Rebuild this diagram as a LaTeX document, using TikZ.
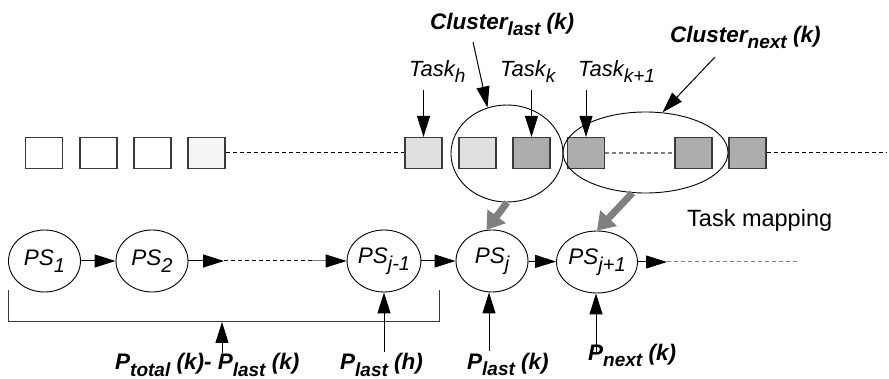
\documentclass[tikz,border=0pt]{standalone}
\usepackage{fontspec}
\setmainfont{Liberation Sans}
\usetikzlibrary{arrows.meta,shapes.geometric}
\definecolor{boxedge}{HTML}{3A3A3A}
\definecolor{palebox}{HTML}{F5F5F5}
\definecolor{lightbox}{HTML}{E0E0E0}
\definecolor{darkbox}{HTML}{ADADAD}
\definecolor{mapgray}{HTML}{808080}
% lowered, smaller text for subscripts (keeps the current shape and series)
\newcommand\lowtxt[1]{\raisebox{-6pt}{\fontsize{19}{19}\selectfont #1}}
\newcommand\pssub[1]{\raisebox{-7pt}{\fontsize{20}{20}\selectfont #1}}
\begin{document}
\begin{tikzpicture}[x=1pt,y=-1pt,
  task/.style={draw=boxedge, line width=1.1pt, minimum width=37pt, minimum height=31pt, inner sep=0pt},
  cluster/.style={draw, ellipse, line width=0.9pt, inner sep=0pt},
  psnode/.style={draw, ellipse, line width=0.9pt, inner sep=0pt, minimum width=72pt, minimum height=62pt,
    font=\fontsize{22.5}{27}\selectfont\itshape},
  itlabel/.style={anchor=base west, inner sep=0pt, font=\fontsize{22}{27}\selectfont\itshape},
  bflabel/.style={anchor=base west, inner sep=0pt, font=\fontsize{22.5}{27}\selectfont\bfseries\itshape},
  uplabel/.style={anchor=base west, inner sep=0pt, font=\fontsize{23.5}{28}\selectfont},
  arr/.style={line width=1pt, -{Triangle[length=21pt,width=13pt]}},
  maparr/.style={draw=mapgray, line width=7pt, -{Triangle[length=17pt,width=22pt]}},
  dots/.style={line width=1pt, dash pattern=on 4pt off 3pt},
]
\useasboundingbox (0,0) rectangle (889,379);

% ---- task sequence ----
\node[task, fill=white]    (t1)  at (44,153)    {};
\node[task, fill=white]    (t2)  at (98.5,153)  {};
\node[task, fill=white]    (t3)  at (152.5,153) {};
\node[task, fill=palebox]  (t4)  at (206.5,153) {};
\node[task, fill=lightbox] (th)  at (423.5,153) {};
\node[task, fill=lightbox] (tl)  at (477.5,153) {};
\node[task, fill=darkbox]  (tk)  at (531.5,153) {};
\node[task, fill=darkbox]  (tk1) at (586,153)   {};
\node[task, fill=darkbox]  (tn)  at (693.5,153) {};
\node[task, fill=darkbox]  (tm)  at (747.5,153) {};
\coordinate (tend) at (887,153);

\draw[dots] (t4.east) -- (th.west);
\draw[dots, draw=mapgray, line width=1.6pt] (tk1.east) -- (tn.west);
\draw[dots] (tm.east) -- (tend);

% ---- clusters ----
\node[cluster, minimum width=112pt, minimum height=97pt] (cl) at (507,153.5) {};
\node[cluster, minimum width=165pt, minimum height=81pt] (cn) at (645.5,152.5) {};

% ---- task labels ----
\node[itlabel] (lh)  at (409,77) {Task\lowtxt{h}};
\node[itlabel] (lk)  at (500,77) {Task\lowtxt{k}};
\node[itlabel] (lk1) at (578,77) {Task\lowtxt{k+1}};
\coordinate (ah)  at (423.5,90);
\coordinate (ak)  at (531.5,90);
\coordinate (ak1) at (586,90);
\draw[arr] (ah)  -- (th.north);
\draw[arr] (ak)  -- (tk.north);
\draw[arr] (ak1) -- (tk1.north);

\node[bflabel] (lcl) at (430,29.5) {Cluster\lowtxt{last} (k)};
\node[bflabel] (lcn) at (670,42.5) {Cluster\lowtxt{next} (k)};
\coordinate (acl) at (473,42);
\coordinate (acn) at (715,57);
\draw[arr] (acl) -- (cl.113);
\draw[arr] (acn) -- (cn.67);

% ---- processing stages ----
\node[psnode] (ps1)  at (44.5,261) {PS\pssub{1}};
\node[psnode] (ps2)  at (152,261)  {PS\pssub{2}};
\node[psnode] (psjm) at (384,261)  {PS\pssub{j-1}};
\node[psnode] (psj)  at (492,261)  {PS\pssub{j}};
\node[psnode] (psjp) at (597,262)  {PS\pssub{j+1}};
\coordinate (d1) at (224,261);
\coordinate (d2) at (312,261);
\coordinate (d2b) at (326,261);
\coordinate (d3) at (667,262);
\coordinate (d4) at (800,262);

\draw[arr] (ps1) -- (ps2);
\draw[arr] (ps2) -- (d1);
\draw[dots] (d1) -- (d2);
\draw[line width=1pt, draw=mapgray] (d2) -- (d2b);
\draw[arr] (d2b) -- (psjm);
\draw[arr] (psjm) -- (psj);
\draw[arr] (psj) -- (psjp);
\draw[arr] (psjp) -- (d3);
\draw[dots, draw=mapgray] (d3) -- (d4);

% ---- task mapping ----
\draw[maparr] (cl.south) -- (psj.100);
\draw[maparr] (cn.252) -- (psjp.north);
\node[uplabel] (lmap) at (687,227) {Task mapping};

% ---- power budget bracket ----
\coordinate (bl0) at (8,290);
\coordinate (bl1) at (8,322);
\coordinate (br1) at (439,322);
\coordinate (br0) at (439,290);
\draw[line width=1pt, draw=boxedge] (bl0) -- (bl1) -- (br1) -- (br0);
\coordinate (atot) at (222,353);
\coordinate (btot) at (222,322);
\draw[arr] (atot) -- (btot);

\node[bflabel] (ptot)  at (115,370) {P\lowtxt{total} (k)- P\lowtxt{last} (k)};
\node[bflabel] (plh)   at (340,370) {P\lowtxt{last} (h)};
\node[bflabel] (plk)   at (467,369) {P\lowtxt{last} (k)};
\node[bflabel] (pnk)   at (588,360) {P\lowtxt{next} (k)};
\coordinate (aplh) at (384,352);
\coordinate (aplk) at (489,351);
\coordinate (apnk) at (596,352);
\draw[arr] (aplh) -- (aplh |- psjm.south);
\draw[arr] (aplk) -- (aplk |- psj.south);
\draw[arr] (apnk) -- (apnk |- psjp.south);
\end{tikzpicture}
\end{document}
